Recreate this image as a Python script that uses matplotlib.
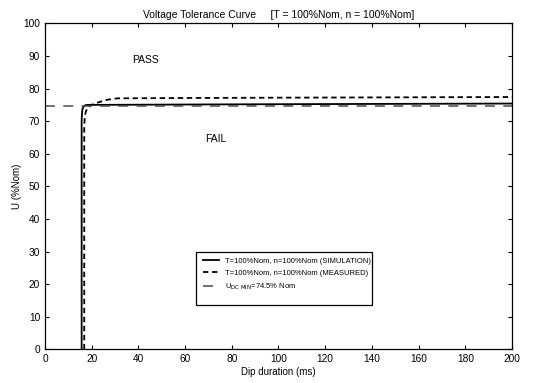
import matplotlib
matplotlib.use("Agg")
import matplotlib.pyplot as plt
from matplotlib.patches import Rectangle

plt.rcParams['font.family'] = ['Liberation Sans', 'DejaVu Sans']

sim_x = [15.7, 15.7, 15.8, 16.0, 16.5, 17.3, 18.5, 25, 60, 100, 150, 200]
sim_y = [0, 70, 72, 73.5, 74.5, 74.9, 75.0, 75.0, 75.1, 75.2, 75.3, 75.4]
meas_x = [16.8, 16.8, 17.0, 17.5, 18.5, 20, 23, 27, 31, 60, 100, 150, 200]
meas_y = [0, 68, 71, 73, 74.3, 75, 75.8, 76.6, 77.0, 77.1, 77.2, 77.3, 77.4]
udc_x = [0, 200]
udc_y = [74.5, 74.5]

fig = plt.figure(figsize=(5.54, 3.83), dpi=100)
ax = fig.add_axes([0.0812, 0.088, 0.843, 0.851])

ax.plot(sim_x, sim_y, color='black', lw=1.3, label='T=100%Nom, n=100%Nom (SIMULATION)')
ax.plot(meas_x, meas_y, color='black', lw=1.3, ls=(0, (3, 2)), label='T=100%Nom, n=100%Nom (MEASURED)')
ax.plot(udc_x, udc_y, color='#4a4a4a', lw=1.1, ls=(0, (6.5, 5.5)), label=r'U$_{\rm DC\ MIN}$=74.5% Nom')

ax.set_xlim(0, 200)
ax.set_ylim(0, 100)
ax.set_xticks(range(0, 201, 20))
ax.set_yticks(range(0, 101, 10))
ax.tick_params(direction='in', top=True, right=True, labelsize=7.3, length=3, width=0.8)
for s in ax.spines.values():
    s.set_linewidth(0.9)

ax.set_xlabel('Dip duration (ms)', fontsize=7, labelpad=2)
ax.set_ylabel('U (%Nom)', fontsize=7, labelpad=1)
ax.set_title('Voltage Tolerance Curve     [T = 100%Nom, n = 100%Nom]', fontsize=7.5, pad=4)

ax.text(43, 88.7, 'PASS', fontsize=7.5, ha='center', va='center')
ax.text(73, 64.5, 'FAIL', fontsize=7.5, ha='center', va='center')

leg = ax.legend(loc='upper left', bbox_to_anchor=(0.338, 0.281), fontsize=5.5,
                frameon=False, handlelength=2.1, handletextpad=0.85,
                borderpad=0, borderaxespad=0, labelspacing=0.6)
leg.get_lines()[2].set_linestyle((0, (6.5, 4.0)))
ax.add_patch(Rectangle((0.3227, 0.135), 0.3773, 0.1646, transform=ax.transAxes,
                       fill=False, edgecolor='black', lw=0.9, zorder=5))

fig.savefig('out.png', dpi=100)
